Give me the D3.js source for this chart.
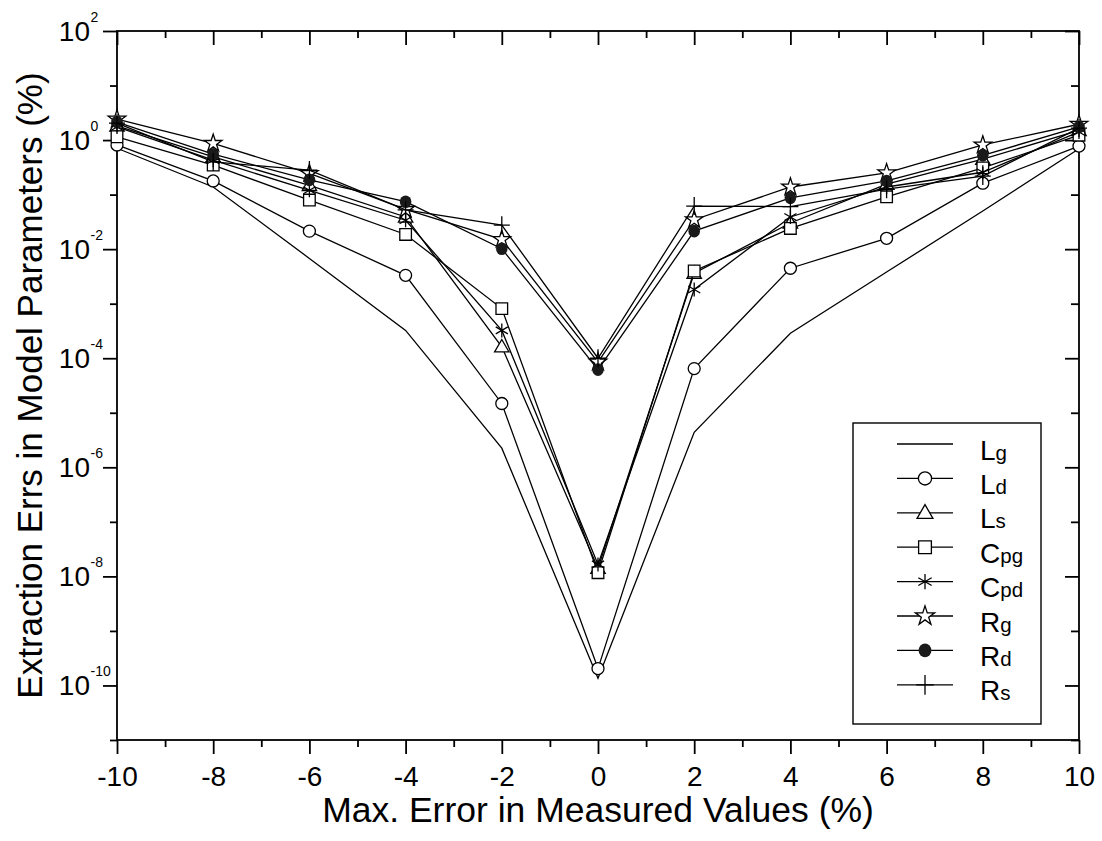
<!DOCTYPE html>
<html>
<head>
<meta charset="utf-8">
<script src="https://cdn.jsdelivr.net/npm/d3@7"></script>
<style>
  html, body { margin: 0; padding: 0; background: #fff; }
  svg { display: block; font-family: "Liberation Sans", Arial, sans-serif; }
</style>
</head>
<body>
<svg id="chart" width="1102" height="841"></svg>
<script>
// ---- data (values in %) ----
const xValues = [-10, -8, -6, -4, -2, 0, 2, 4, 6, 8, 10];
const Lg  = [0.708, 0.138, 0.00676, 3.24e-4, 2.24e-6, 1.35e-10, 4.37e-6, 2.88e-4, 3.80e-3, 0.0501, 0.692];
const Ld  = [0.813, 0.178, 0.0214, 3.31e-3, 1.48e-5, 2.04e-10, 6.46e-5, 4.47e-3, 0.0158, 0.162, 0.776];
const Ls  = [1.82, 0.490, 0.148, 0.0389, 1.62e-4, 1.41e-8, 3.63e-3, 0.0302, 0.155, 0.447, 1.51];
const Cpg = [1.15, 0.347, 0.0794, 0.0186, 8.13e-4, 1.17e-8, 3.98e-3, 0.0240, 0.0912, 0.309, 1.23];
const Cpd = [1.74, 0.427, 0.120, 0.0339, 3.24e-4, 1.66e-8, 1.82e-3, 0.0389, 0.138, 0.257, 1.41];
const Rg  = [2.43, 0.871, 0.245, 0.0537, 0.0151, 8.51e-5, 0.0347, 0.138, 0.251, 0.813, 1.95];
const Rd  = [2.14, 0.550, 0.186, 0.0741, 0.0102, 6.17e-5, 0.0214, 0.0871, 0.178, 0.525, 1.74];
const Rs  = [2.04, 0.398, 0.282, 0.0525, 0.0275, 1.00e-4, 0.0617, 0.0603, 0.126, 0.219, 1.66];

const seriesNames = [["L","g"],["L","d"],["L","s"],["C","pg"],["C","pd"],["R","g"],["R","d"],["R","s"]];
const seriesMarkers = ["none","circle","triangle","square","asterisk","star","dot","plus"];
const seriesValues = [Lg, Ld, Ls, Cpg, Cpd, Rg, Rd, Rs];

const xMajorTicks = [-10, -8, -6, -4, -2, 0, 2, 4, 6, 8, 10];
const xMinorTicks = [-9, -7, -5, -3, -1, 1, 3, 5, 7, 9];
const yMajorExps = [2, 0, -2, -4, -6, -8, -10];
const yMinorExps = [1, -1, -3, -5, -7, -9, -11];

const xTitle = "Max. Error in Measured Values (%)";
const yTitle = "Extraction Errs in Model Parameters (%)";

// ---- layout ----
const L = 117, R = 1079, T = 31, B = 740;
const svg = d3.select("#chart");
const x = d3.scaleLinear().domain([-10, 10]).range([L, R]);
const y = d3.scaleLog().domain([1e-11, 1e2]).range([B, T]);

const axisColor = "#000";
const AW = 1.8;

function styleAxis(g) {
  g.select(".domain").remove();
  g.selectAll(".tick line").attr("stroke", axisColor).attr("stroke-width", AW);
  g.selectAll(".tick text").attr("fill", "#000").attr("font-family", "Liberation Sans, Arial, sans-serif");
}

// bottom
svg.append("g").attr("transform", `translate(0,${B})`)
  .call(d3.axisBottom(x).tickValues(xMajorTicks).tickSize(14).tickPadding(12).tickFormat(d => String(d)))
  .call(styleAxis)
  .call(g => g.selectAll(".tick text").attr("font-size", 28));
svg.append("g").attr("transform", `translate(0,${B})`)
  .call(d3.axisBottom(x).tickValues(xMinorTicks).tickSize(7).tickFormat(""))
  .call(styleAxis);
// top (inward)
svg.append("g").attr("transform", `translate(0,${T})`)
  .call(d3.axisTop(x).tickValues(xMajorTicks).tickSize(-14).tickFormat(""))
  .call(styleAxis);
svg.append("g").attr("transform", `translate(0,${T})`)
  .call(d3.axisTop(x).tickValues(xMinorTicks).tickSize(-7).tickFormat(""))
  .call(styleAxis);
// left (outward)
const yMajorVals = yMajorExps.map(e => Math.pow(10, e));
const yMinorVals = yMinorExps.map(e => Math.pow(10, e));
svg.append("g").attr("transform", `translate(${L},0)`)
  .call(d3.axisLeft(y).tickValues(yMajorVals).tickSize(14).tickFormat(""))
  .call(styleAxis);
svg.append("g").attr("transform", `translate(${L},0)`)
  .call(d3.axisLeft(y).tickValues(yMinorVals).tickSize(7).tickFormat(""))
  .call(styleAxis);
// right (inward)
svg.append("g").attr("transform", `translate(${R},0)`)
  .call(d3.axisRight(y).tickValues(yMajorVals).tickSize(-14).tickFormat(""))
  .call(styleAxis);
svg.append("g").attr("transform", `translate(${R},0)`)
  .call(d3.axisRight(y).tickValues(yMinorVals).tickSize(-8).tickFormat(""))
  .call(styleAxis);

// y tick labels 10^n
const yl = svg.append("g");
yMajorExps.forEach(e => {
  const yy = y(Math.pow(10, e));
  yl.append("text").attr("x", 90).attr("y", yy + 9.7).attr("text-anchor", "end")
    .attr("font-size", 28).text("10");
  yl.append("text").attr("x", 90.5).attr("y", yy - 9).attr("text-anchor", "start")
    .attr("font-size", 14).text(String(e));
});

// frame
svg.append("rect").attr("x", L).attr("y", T).attr("width", R - L).attr("height", B - T)
  .attr("fill", "none").attr("stroke", axisColor).attr("stroke-width", AW);

// axis titles
svg.append("text").attr("x", (L + R) / 2).attr("y", 822).attr("text-anchor", "middle")
  .attr("font-size", 35.5).text(xTitle);
svg.append("text").attr("transform", `translate(42,${(T + B) / 2}) rotate(-90)`)
  .attr("text-anchor", "middle").attr("font-size", 35).text(yTitle);

// markers
const LW = 1.3;
function drawMarker(g, type, cx, cy, scale) {
  const s = scale || 1;
  if (type === "none") return;
  if (type === "circle") {
    g.append("circle").attr("cx", cx).attr("cy", cy).attr("r", 6 * s)
      .attr("fill", "#fff").attr("stroke", "#000").attr("stroke-width", LW);
  } else if (type === "dot") {
    g.append("ellipse").attr("cx", cx).attr("cy", cy).attr("rx", 5.8 * s).attr("ry", 6.3 * s)
      .attr("fill", "#1a1a1a").attr("stroke", "none");
  } else if (type === "triangle") {
    g.append("path").attr("transform", `translate(${cx},${cy + 1})`)
      .attr("d", d3.symbol(d3.symbolTriangle, 90 * s * s)())
      .attr("fill", "#fff").attr("stroke", "#000").attr("stroke-width", LW);
  } else if (type === "square") {
    g.append("path").attr("transform", `translate(${cx},${cy})`)
      .attr("d", d3.symbol(d3.symbolSquare, 135 * s * s)())
      .attr("fill", "#fff").attr("stroke", "#000").attr("stroke-width", LW);
  } else if (type === "star") {
    g.append("path").attr("transform", `translate(${cx},${cy})`)
      .attr("d", d3.symbol(d3.symbolStar, 95 * s * s)())
      .attr("fill", "#fff").attr("stroke", "#000").attr("stroke-width", LW);
  } else if (type === "asterisk") {
    const r = 7 * s;
    const p = d3.path();
    for (let k = 0; k < 3; k++) {
      const a = Math.PI / 2 + k * Math.PI / 3;
      p.moveTo(cx + r * Math.cos(a), cy + r * Math.sin(a));
      p.lineTo(cx - r * Math.cos(a), cy - r * Math.sin(a));
    }
    g.append("path").attr("d", p.toString()).attr("fill", "none")
      .attr("stroke", "#000").attr("stroke-width", LW);
  } else if (type === "plus") {
    const rv = 9 * s, rh = 8 * s;
    const p = d3.path();
    p.moveTo(cx, cy - rv); p.lineTo(cx, cy + rv);
    p.moveTo(cx - rh, cy); p.lineTo(cx + rh, cy);
    g.append("path").attr("d", p.toString()).attr("fill", "none")
      .attr("stroke", "#000").attr("stroke-width", LW);
  }
}

const line = d3.line().x(d => x(d[0])).y(d => y(d[1]));
const plot = svg.append("g");
seriesValues.forEach((vals, i) => {
  const pts = xValues.map((xv, j) => [xv, vals[j]]);
  const g = plot.append("g");
  g.append("path").attr("d", line(pts)).attr("fill", "none")
    .attr("stroke", "#000").attr("stroke-width", LW);
  pts.forEach(p => drawMarker(g, seriesMarkers[i], x(p[0]), y(p[1]), 1));
});

// legend
const lg = svg.append("g");
lg.append("rect").attr("x", 853).attr("y", 423).attr("width", 188).attr("height", 301)
  .attr("fill", "#fff").attr("stroke", "#000").attr("stroke-width", 1.4);
seriesNames.forEach((nm, i) => {
  const ly = 444 + i * 34.4;
  lg.append("line").attr("x1", 897).attr("x2", 953).attr("y1", ly).attr("y2", ly)
    .attr("stroke", "#000").attr("stroke-width", LW);
  drawMarker(lg, seriesMarkers[i], 925, ly, 1.1);
  const t = lg.append("text").attr("x", 980).attr("y", ly + 15.5).attr("font-size", 28);
  t.append("tspan").text(nm[0]);
  t.append("tspan").attr("font-size", 20.5).text(nm[1]);
});
</script>
</body>
</html>
